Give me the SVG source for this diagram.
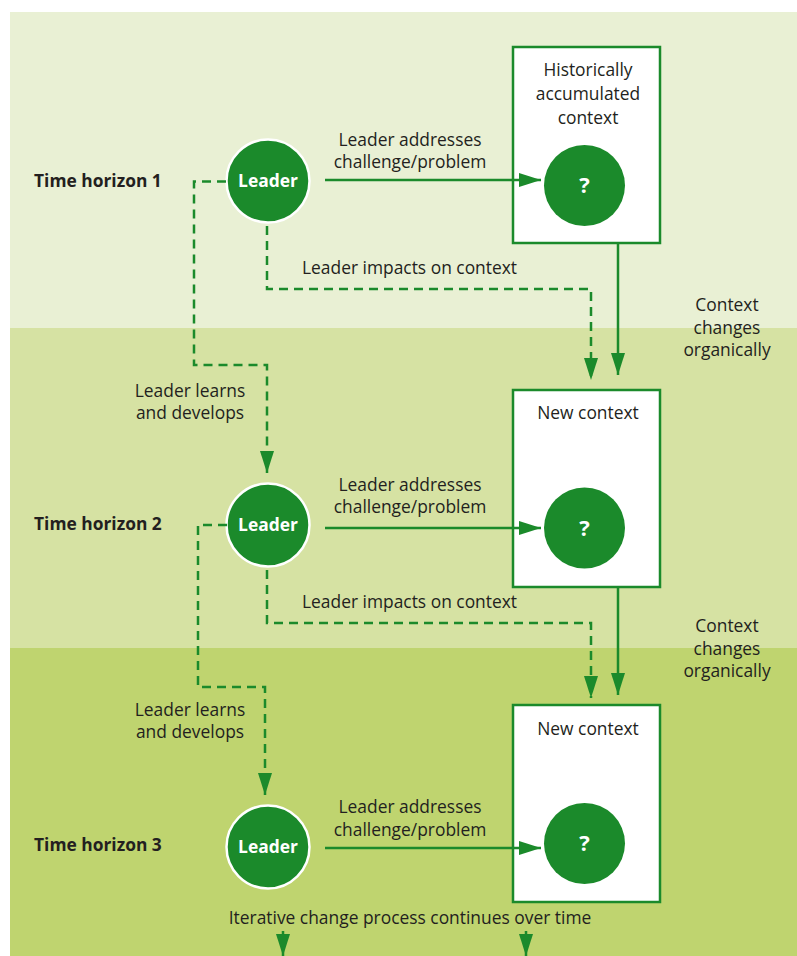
<svg xmlns="http://www.w3.org/2000/svg" width="797" height="956" viewBox="0 0 797 956">
<defs>
<style>
.t{font-family:"Open Sans","Noto Sans","Liberation Sans",sans-serif;font-size:17.4px;fill:#231f20}
.c{text-anchor:middle}
.b{font-weight:bold}
.w{fill:#ffffff;font-weight:bold;text-anchor:middle}
.qm{font-size:22px}
.ln{fill:none;stroke:#1b8a2b;stroke-width:2.5}
.ds{fill:none;stroke:#1b8a2b;stroke-width:2.5;stroke-dasharray:9,6}
.box{fill:#ffffff;stroke:#1b8a2b;stroke-width:2.5}
.ldr{fill:#1b8a2b;stroke:#ffffff;stroke-width:2.5}
.q{fill:#1b8a2b}
</style>
<marker id="ah" markerWidth="22" markerHeight="14" refX="22" refY="7" orient="auto" markerUnits="userSpaceOnUse">
<path d="M0,0 L22,7 L0,14 Z" fill="#1b8a2b"/>
</marker>
</defs>
<rect x="0" y="0" width="797" height="956" fill="#ffffff"/>
<rect x="10" y="12" width="787" height="316" fill="#e9f0d4"/>
<rect x="10" y="328" width="787" height="320" fill="#d6e2a3"/>
<rect x="10" y="648" width="787" height="308" fill="#bfd46f"/>

<g id="time1"><text class="t b" x="34" y="187">Time horizon 1</text></g>
<g id="time2"><text class="t b" x="34" y="530">Time horizon 2</text></g>
<g id="time3"><text class="t b" x="34" y="851">Time horizon 3</text></g>

<g id="leader1"><circle class="ldr" cx="268" cy="181" r="41.5"/><text class="t w" x="268" y="187">Leader</text></g>
<g id="leader2"><circle class="ldr" cx="268" cy="525" r="41.5"/><text class="t w" x="268" y="531">Leader</text></g>
<g id="leader3"><circle class="ldr" cx="268" cy="847" r="41.5"/><text class="t w" x="268" y="853">Leader</text></g>

<g id="context1">
<rect class="box" x="513" y="47" width="147" height="196"/>
<text class="t c" x="588" y="76">Historically</text>
<text class="t c" x="588" y="100">accumulated</text>
<text class="t c" x="588" y="124">context</text>
<circle class="q" cx="584.5" cy="185.5" r="40.5"/>
<text class="t w qm" x="584.5" y="193">?</text>
</g>
<g id="context2">
<rect class="box" x="513" y="390" width="147" height="197"/>
<text class="t c" x="588" y="419">New context</text>
<circle class="q" cx="584.5" cy="528" r="40.5"/>
<text class="t w qm" x="584.5" y="536">?</text>
</g>
<g id="context3">
<rect class="box" x="513" y="705" width="147" height="197"/>
<text class="t c" x="588" y="735">New context</text>
<circle class="q" cx="584.5" cy="843.5" r="40.5"/>
<text class="t w qm" x="584.5" y="851">?</text>
</g>

<g id="connectors">
<path class="ln" d="M325,180 H541" marker-end="url(#ah)"/>
<path class="ln" d="M325,528 H541" marker-end="url(#ah)"/>
<path class="ln" d="M325,848 H541" marker-end="url(#ah)"/>
<path class="ln" d="M618,244 V375" marker-end="url(#ah)"/>
<path class="ln" d="M618,588 V695" marker-end="url(#ah)"/>
<path class="ds" d="M226,181.5 H194 V365 H267 V473" marker-end="url(#ah)"/>
<path class="ds" d="M227,525 H198 V687 H265 V795" marker-end="url(#ah)"/>
<path class="ds" d="M267,226 V289 H591 V380" marker-end="url(#ah)"/>
<path class="ds" d="M267,570 V623 H591 V698" marker-end="url(#ah)"/>
<path class="ln" d="M283,931 V956" marker-end="url(#ah)"/>
<path class="ln" d="M526,931 V956" marker-end="url(#ah)"/>
</g>

<g id="labels">
<text class="t c" x="410" y="146">Leader addresses</text>
<text class="t c" x="410" y="168">challenge/problem</text>
<text class="t c" x="410" y="491">Leader addresses</text>
<text class="t c" x="410" y="513">challenge/problem</text>
<text class="t c" x="410" y="813">Leader addresses</text>
<text class="t c" x="410" y="836">challenge/problem</text>
<text class="t" x="302" y="274">Leader impacts on context</text>
<text class="t" x="302" y="608">Leader impacts on context</text>
<text class="t c" x="727" y="311">Context</text>
<text class="t c" x="727" y="334">changes</text>
<text class="t c" x="727" y="356">organically</text>
<text class="t c" x="727" y="632">Context</text>
<text class="t c" x="727" y="655">changes</text>
<text class="t c" x="727" y="677">organically</text>
<text class="t c" x="190" y="397">Leader learns</text>
<text class="t c" x="190" y="419">and develops</text>
<text class="t c" x="190" y="716">Leader learns</text>
<text class="t c" x="190" y="738">and develops</text>
<text class="t c" x="410" y="924">Iterative change process continues over time</text>
</g>
</svg>
